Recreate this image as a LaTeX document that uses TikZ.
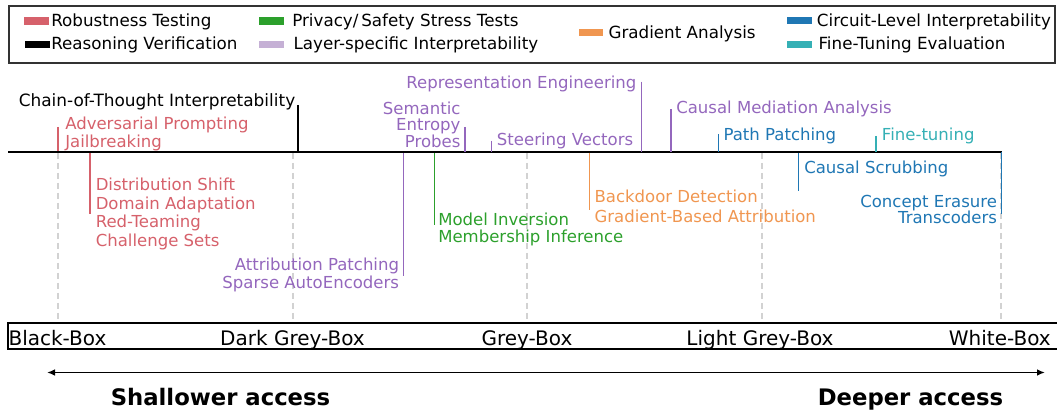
\documentclass[tikz,border=0pt]{standalone}
\usepackage{fontspec}
\setmainfont{DejaVu Sans}
\usetikzlibrary{arrows.meta}
\definecolor{cRob}{RGB}{214,97,107}
\definecolor{cPriv}{RGB}{44,160,44}
\definecolor{cLayS}{RGB}{197,176,213}
\definecolor{cLay}{RGB}{148,103,189}
\definecolor{cGrad}{RGB}{240,150,80}
\definecolor{cCirc}{RGB}{31,119,180}
\definecolor{cFine}{RGB}{53,176,181}
\definecolor{cDash}{RGB}{210,210,210}
\tikzset{
  lbl/.style={inner sep=0pt, font=\fontsize{12.4}{14}\selectfont},
  leg/.style={inner sep=0pt, font=\fontsize{12.55}{14}\selectfont, anchor=base west},
  swatch/.style={draw=none, inner sep=0pt, minimum width=18.5pt, minimum height=5.4pt},
  tick/.style={line width=0.9pt},
  guide/.style={draw=cDash, line width=1pt, dash pattern=on 4.5pt off 3pt},
  axlbl/.style={inner sep=0pt, font=\fontsize{15}{16}\selectfont, anchor=base},
  big/.style={inner sep=0pt, font=\fontsize{17.05}{18}\selectfont\bfseries, anchor=base},
}
\begin{document}
\begin{tikzpicture}[x=0.75pt, y=-0.75pt]
\useasboundingbox (0,0) rectangle (1057,413);
% legend
\draw[black!80, line width=0.8pt] (9,6) rectangle (1055,63);
\node[swatch, fill=cRob] (sw1) at (36.5,21) {};
\node[leg] (lg1) at (51,26.7) {Robustness Testing};
\node[swatch, fill=black] (sw2) at (37.5,44.5) {};
\node[leg] (lg2) at (51,49.3) {Reasoning Verification};
\node[swatch, fill=cPriv] (sw3) at (271.5,21) {};
\node[leg] (lg3) at (292,26.7) {Privacy/\,Safety Stress Tests};
\node[swatch, fill=cLayS] (sw4) at (271.5,44.5) {};
\node[leg] (lg4) at (293.3,49.3) {Layer-specific Interpretability};
\node[swatch, fill=cGrad] (sw5) at (591,32.5) {};
\node[leg] (lg5) at (608.3,38.3) {Gradient Analysis};
\node[swatch, fill=cCirc] (sw6) at (799.5,20.2) {};
\node[leg] (lg6) at (816.7,26.7) {Circuit-Level Interpretability};
\node[swatch, fill=cFine] (sw7) at (799.5,44.2) {};
\node[leg] (lg7) at (818.3,49.3) {Fine-Tuning Evaluation};

% main timeline
\coordinate (mL) at (8,152);
\coordinate (mR) at (1002,152);
% guides
\foreach \gx [count=\i] in {58,293,527,762,1001}{
  \coordinate (g\i a) at (\gx,153);
  \coordinate (g\i b) at (\gx,323);
  \draw[guide] (g\i a) -- (g\i b);
}
\draw[line width=0.9pt] (mL) -- (mR);

% Reasoning
\node[lbl, anchor=north east, font=\fontsize{12.7}{14}\selectfont] (cot) at (295.5,93.4) {Chain-of-Thought Interpretability};
\coordinate (cotA) at (298,105); \coordinate (cotB) at (298,152);
\draw[tick] (cotA) -- (cotB);

% Robustness
\node[lbl, text=cRob, anchor=north west, align=left, font=\fontsize{12.4}{12.9}\selectfont] (adv) at (65,117) {Adversarial Prompting\\Jailbreaking};
\coordinate (advA) at (58,127); \coordinate (advB) at (58,151);
\draw[tick, cRob] (advA) -- (advB);
\node[lbl, text=cRob, anchor=north west, align=left] (dist) at (95.5,177.6) {Distribution Shift\\Domain Adaptation\\Red-Teaming\\Challenge Sets};
\coordinate (distA) at (90,153); \coordinate (distB) at (90,214);
\draw[tick, cRob] (distA) -- (distB);

% Privacy
\node[lbl, text=cPriv, anchor=north west, align=left, font=\fontsize{12.4}{12.6}\selectfont] (mi) at (438,212.6) {Model Inversion\\Membership Inference};
\coordinate (miA) at (434.3,153); \coordinate (miB) at (434.3,225);
\draw[tick, cPriv] (miA) -- (miB);

% Layer-specific
\node[lbl, text=cLay, anchor=north east, align=right, font=\fontsize{12.4}{11.6}\selectfont] (sep) at (460.7,102) {Semantic\\Entropy\\Probes};
\coordinate (sepA) at (465,127); \coordinate (sepB) at (465,152);
\draw[tick, cLay] (sepA) -- (sepB);
\node[lbl, text=cLay, anchor=base west] (sv) at (496.7,145.3) {Steering Vectors};
\coordinate (svA) at (491.3,141); \coordinate (svB) at (491.3,152);
\draw[tick, cLay] (svA) -- (svB);
\node[lbl, text=cLay, anchor=base east] (re) at (636.7,88.3) {Representation Engineering};
\coordinate (reA) at (641.7,81.7); \coordinate (reB) at (641.7,152);
\draw[tick, cLay] (reA) -- (reB);
\node[lbl, text=cLay, anchor=base west] (cma) at (676,114) {Causal Mediation Analysis};
\coordinate (cmaA) at (671,109.3); \coordinate (cmaB) at (671,152);
\draw[tick, cLay] (cmaA) -- (cmaB);
\node[lbl, text=cLay, anchor=north east, align=right, font=\fontsize{12.4}{13.7}\selectfont] (ap) at (399.3,257.6) {Attribution Patching\\Sparse AutoEncoders};
\coordinate (apA) at (403.3,153); \coordinate (apB) at (403.3,276);
\draw[tick, cLay] (apA) -- (apB);

% Gradient
\node[lbl, text=cGrad, anchor=north west, align=left, font=\fontsize{12.4}{15}\selectfont] (bd) at (594.3,190) {Backdoor Detection\\Gradient-Based Attribution};
\coordinate (bdA) at (589.3,153); \coordinate (bdB) at (589.3,210);
\draw[tick, cGrad] (bdA) -- (bdB);

% Circuit
\node[lbl, text=cCirc, anchor=base west] (pp) at (723.3,140.7) {Path Patching};
\coordinate (ppA) at (718.3,134.3); \coordinate (ppB) at (718.3,152);
\draw[tick, cCirc] (ppA) -- (ppB);
\node[lbl, text=cCirc, anchor=base west] (cs) at (804,173.3) {Causal Scrubbing};
\coordinate (csA) at (798.7,153); \coordinate (csB) at (798.7,191);
\draw[tick, cCirc] (csA) -- (csB);
\node[lbl, text=cCirc, anchor=north east, align=right, font=\fontsize{12.4}{12.2}\selectfont] (ce) at (997.3,195) {Concept Erasure\\Transcoders};
\coordinate (ceA) at (1001.3,152); \coordinate (ceB) at (1001.3,214);
\draw[tick, cCirc] (ceA) -- (ceB);

% Fine-tuning
\node[lbl, text=cFine, anchor=base west] (ft) at (881.7,140.7) {Fine-tuning};
\coordinate (ftA) at (876,136); \coordinate (ftB) at (876,152);
\draw[tick, cFine] (ftA) -- (ftB);

% bottom axis box
\draw[line width=0.8pt] (1058,323) -- (8,323) -- (8,349) -- (1058,349);
\node[axlbl, anchor=base west] (bb) at (8.3,345) {Black-Box};
\node[axlbl] (dgb) at (292.5,345) {Dark Grey-Box};
\node[axlbl] (gb) at (527,345) {Grey-Box};
\node[axlbl] (lgb) at (760,345) {Light Grey-Box};
\node[axlbl, anchor=base east] (wb) at (1051,345) {White-Box};

% access arrow
\coordinate (arL) at (47,372.5);
\coordinate (arR) at (1045,372.5);
\draw[line width=1.1pt, {Latex[length=6pt,width=5pt]}-{Latex[length=6pt,width=5pt]}] (arL) -- (arR);
\node[big] (sh) at (220.5,405.5) {Shallower access};
\node[big] (dp) at (910.5,405.5) {Deeper access};
\end{tikzpicture}
\end{document}
